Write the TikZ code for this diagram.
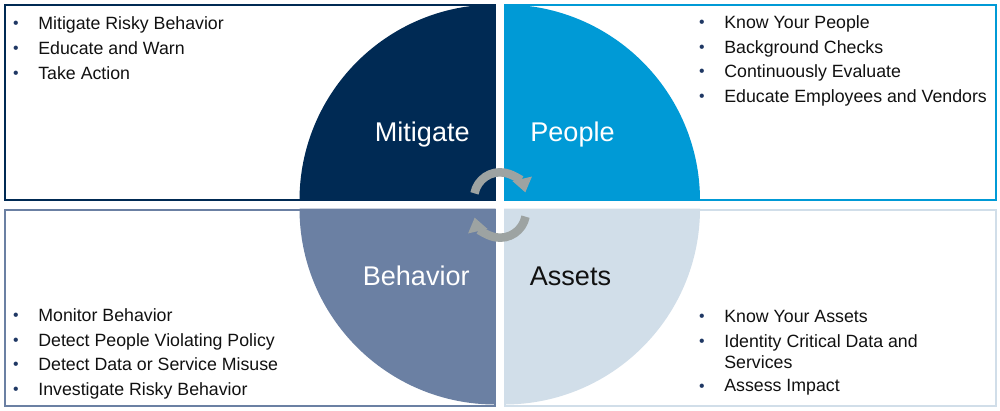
\documentclass[tikz,border=0pt]{standalone}
\usepackage{fontspec}
\setmainfont{Liberation Sans}
\usetikzlibrary{arrows.meta}
\definecolor{cMit}{HTML}{002A54}
\definecolor{cPeo}{HTML}{009AD6}
\definecolor{cBeh}{HTML}{6B80A3}
\definecolor{cAss}{HTML}{D1DEE9}
\definecolor{cArr}{HTML}{9DA3A2}
\definecolor{cBul}{HTML}{1F3864}
\definecolor{cTxt}{HTML}{111111}
\newcommand{\bul}{\llap{\makebox[9mm][c]{\textcolor{cBul}{\fontsize{9pt}{9pt}\selectfont\raisebox{0.3pt}{•}}}}}
\tikzset{
  bline/.style={anchor=base west, inner sep=0pt, text=cTxt, font=\fontsize{10.1pt}{12pt}\selectfont},
  lbl/.style={inner sep=0pt, font=\fontsize{15.4pt}{18pt}\selectfont},
  boxframe/.style={line width=0.4mm, fill=white},
  circarrow/.style={draw=cArr, line width=1.7mm, -{Triangle[width=3.8mm,length=2.8mm]}},
}
\begin{document}
\begin{tikzpicture}[x=0.2mm, y=-0.2mm]
\useasboundingbox (0,0) rectangle (1000,410);
% frames
\draw[boxframe, draw=cMit] (5,4.5) rectangle (494.5,200);
\draw[boxframe, draw=cPeo] (505,4.5) rectangle (995.5,200);
\draw[boxframe, draw=cBeh] (5,209.5) rectangle (494.5,405.5);
\draw[boxframe, draw=cAss] (505,209.5) rectangle (995.5,405.5);
% quadrants
\coordinate (qtl) at (495.5,200.5);
\coordinate (qtr) at (504,200.5);
\coordinate (qbl) at (495.5,208.5);
\coordinate (qbr) at (504,208.5);
\fill[cMit] (qtl) -- ++(-196,0) arc (180:270:196) -- cycle;
\fill[cPeo] (qtr) -- ++(0,-196) arc (270:360:196) -- cycle;
\fill[cBeh] (qbl) -- ++(-196,0) arc (180:90:196) -- cycle;
\fill[cAss] (qbr) -- ++(196,0) arc (0:90:196) -- cycle;
% labels
\node[lbl, text=white, anchor=base east] (mit) at (470,141.7) {Mitigate};
\node[lbl, text=white, anchor=base west] (peo) at (530,141.7) {People};
\node[lbl, text=white, anchor=base east] (beh) at (470,285) {Behavior};
\node[lbl, text=cTxt, anchor=base west] (ass) at (529.5,285) {Assets};
% cycle arrows
\coordinate (ctop) at (500,198.3);
\coordinate (cbot) at (500,211.7);
\draw[circarrow] (ctop) ++(191:26) arc (191:347:26);
\draw[circarrow] (cbot) ++(11:26) arc (11:167:26);
% bullet lists
\node[bline] (tl1) at (38,29) {\bul Mitigate Risky Behavior};
\node[bline] (tl2) at (38,54) {\bul Educate and Warn};
\node[bline] (tl3) at (38,79) {\bul Take Action};
\node[bline] (tr1) at (724,28.5) {\bul Know Your People};
\node[bline] (tr2) at (724,53) {\bul Background Checks};
\node[bline] (tr3) at (724,77.5) {\bul Continuously Evaluate};
\node[bline] (tr4) at (724,102) {\bul Educate Employees and Vendors};
\node[bline] (bl1) at (38,321.5) {\bul Monitor Behavior};
\node[bline] (bl2) at (38,346) {\bul Detect People Violating Policy};
\node[bline] (bl3) at (38,370.5) {\bul Detect Data or Service Misuse};
\node[bline] (bl4) at (38,395) {\bul Investigate Risky Behavior};
\node[bline] (br1) at (724,322.3) {\bul Know Your Assets};
\node[bline] (br2) at (724,347.3) {\bul Identity Critical Data and};
\node[bline] (br2b) at (724,368.3) {Services};
\node[bline] (br3) at (724,391.7) {\bul Assess Impact};
\end{tikzpicture}
\end{document}
